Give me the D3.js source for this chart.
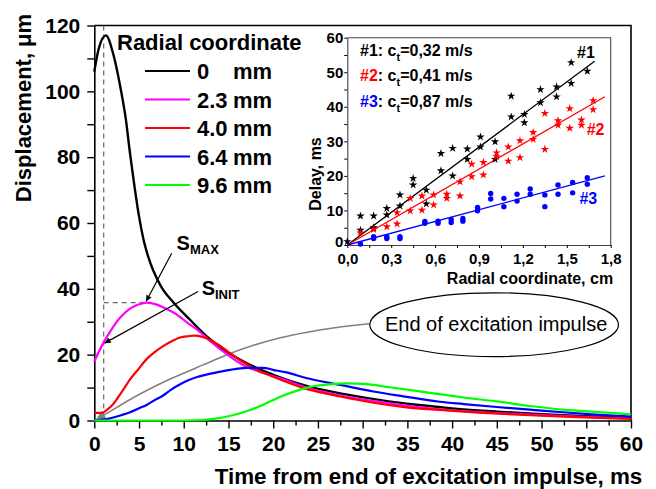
<!DOCTYPE html>
<html>
<head>
<meta charset="utf-8">
<script src="https://cdn.jsdelivr.net/npm/d3@7"></script>
<style>
body { margin: 0; background: #fff; }
text { font-family: Arial, "Liberation Sans", sans-serif; }
</style>
</head>
<body>
<script>
/* DATA */
// main chart: time from end of impulse (ms) vs displacement (um), one pair per radius
var radii = ["0", "2.3", "4.0", "6.4", "9.6"];
var seriesColors = ["#000000", "#ff00ff", "#ff0000", "#0000ff", "#00ff00"];

var time0 = [0, 0.5, 1.3, 2.1, 3.0, 3.5, 4.0, 4.5, 5.0, 5.5, 6.0, 7.4, 8.9, 10.7, 12.6, 14.5, 17.1, 20.0, 24.0, 28.0, 32.0, 36.0, 40.0, 45.0, 50.0, 55.0, 60.0];
var disp0 = [106, 113, 117, 111.5, 100, 92, 81, 71, 62, 55, 50, 41, 35.7, 30.6, 25.5, 21.5, 17.3, 13.9, 10.3, 8.0, 6.2, 4.8, 3.7, 2.7, 1.9, 1.3, 0.8];

var time23 = [0, 1.0, 2.0, 3.0, 4.0, 5.0, 5.8, 7.0, 8.0, 9.0, 10.5, 11.6, 13.0, 14.2, 15.7, 17.0, 18.5, 20.8, 23.7, 27.5, 32.0, 38.6, 44.0, 48.7, 54.0, 60.0];
var disp23 = [18, 23.5, 28, 31.6, 34, 35.3, 35.8, 35.2, 34, 32.6, 29.5, 27.4, 24, 21.4, 18.4, 16.3, 14.8, 12.8, 10.0, 7.6, 5.6, 3.4, 2.4, 1.8, 1.2, 0.6];

var time40 = [0, 0.8, 1.4, 2.0, 3.0, 4.0, 4.9, 5.9, 6.75, 7.7, 8.6, 9.6, 10.5, 11.2, 12.0, 13.0, 14.0, 15.0, 16.3, 18.0, 20.0, 23.7, 27.5, 31.2, 34.9, 38.6, 43.0, 48.7, 54.0, 60.0];
var disp40 = [2.3, 2.3, 3.2, 4.6, 8.4, 12.5, 15.5, 18.8, 20.8, 22.6, 24.0, 25.2, 25.6, 25.8, 25.5, 24.4, 22.8, 20.8, 18.3, 15.6, 13.3, 9.6, 7.3, 5.4, 4.0, 3.2, 2.4, 1.6, 1.0, 0.5];

var time64 = [0, 1.5, 3.0, 4.0, 4.9, 5.9, 6.75, 7.7, 8.6, 9.6, 10.5, 11.5, 12.3, 13.3, 15.0, 17.0, 18.9, 20.0, 21.5, 23.7, 27.5, 31.2, 34.9, 38.6, 41.3, 45.0, 48.7, 52.4, 56.0, 60.0];
var disp64 = [0, 0.5, 1.6, 2.5, 3.6, 4.8, 6.2, 7.6, 9.4, 11.0, 12.2, 13.2, 13.8, 14.4, 15.3, 16.0, 16.0, 15.4, 14.6, 12.9, 10.8, 8.8, 7.2, 5.7, 5.0, 4.1, 3.3, 2.5, 1.8, 1.2];

var time96 = [0, 5, 10, 12, 13.3, 15, 16.3, 17.1, 18.9, 20, 20.8, 22.6, 23.7, 24.5, 26.7, 28, 29.3, 30.1, 33, 37.5, 41, 45, 48.7, 52.4, 56, 60];
var disp96 = [0, 0, 0, 0.15, 0.5, 1.3, 2.2, 2.9, 4.8, 6.2, 7.2, 9.0, 9.9, 10.4, 11.1, 11.3, 11.2, 11.1, 10.1, 8.4, 7.1, 5.8, 4.4, 3.3, 2.6, 1.9];

// gray arrow "end of excitation impulse", from the ellipse back to t=0
var timeGray = [30.8, 28.6, 26.4, 23.7, 20.8, 17.2, 15.2, 12.3, 8.6, 4.9, 2.1, 0.15];
var dispGray = [29.4, 28.8, 28.0, 26.8, 25.3, 22.4, 20.5, 17.0, 12.9, 7.9, 3.3, 0.1];

// inset: radial coordinate (cm) vs delay (ms)
var radius1 = [0.0, 0.09, 0.09, 0.18, 0.18, 0.27, 0.27, 0.36, 0.36, 0.45, 0.45, 0.54, 0.54, 0.64, 0.64, 0.72, 0.72, 0.82, 0.82, 0.91, 0.91, 1.01, 1.01, 1.12, 1.12, 1.21, 1.21, 1.32, 1.32, 1.43, 1.43, 1.53, 1.53, 1.64];
var delay1 = [1.0, 8.4, 4.3, 8.4, 5.0, 10.6, 8.7, 14.5, 11.3, 19.3, 17.4, 15.9, 11.9, 26.5, 21.5, 28.0, 20.0, 27.8, 24.8, 31.3, 28.4, 29.9, 24.8, 43.1, 37.1, 37.8, 35.4, 45.0, 41.2, 45.8, 42.9, 52.8, 46.8, 50.3];

var radius2 = [0.09, 0.18, 0.27, 0.34, 0.34, 0.43, 0.43, 0.51, 0.51, 0.59, 0.59, 0.68, 0.68, 0.77, 0.77, 0.85, 0.85, 0.93, 0.93, 1.02, 1.02, 1.10, 1.10, 1.18, 1.18, 1.27, 1.27, 1.35, 1.35, 1.44, 1.44, 1.52, 1.52, 1.60, 1.60, 1.68, 1.68];
var delay2 = [3.5, 4.5, 5.3, 9.4, 6.1, 13.5, 9.9, 14.2, 10.1, 14.5, 11.6, 14.7, 13.5, 14.2, 18.3, 23.4, 19.8, 23.9, 20.3, 26.7, 25.6, 28.4, 24.3, 30.2, 25.3, 32.6, 30.6, 38.1, 27.7, 36.0, 34.7, 39.5, 33.8, 36.2, 34.7, 41.8, 39.2];

var radius3 = [0.09, 0.18, 0.18, 0.27, 0.27, 0.36, 0.36, 0.53, 0.53, 0.62, 0.62, 0.71, 0.71, 0.79, 0.79, 0.89, 0.89, 0.98, 0.98, 1.07, 1.07, 1.16, 1.16, 1.25, 1.25, 1.35, 1.35, 1.44, 1.44, 1.54, 1.54, 1.64, 1.64];
var delay3 = [0.3, 2.4, 1.9, 2.4, 1.9, 2.4, 1.9, 6.8, 6.3, 6.9, 6.3, 7.4, 6.5, 7.7, 6.9, 10.9, 9.9, 14.9, 13.3, 13.5, 11.1, 14.7, 12.7, 16.2, 14.7, 14.5, 11.1, 17.4, 14.7, 18.1, 15.1, 19.5, 17.6];

// linear fits (start and end of each line)
var fitRadius1 = [0, 1.69], fitDelay1 = [0, 53.2];
var fitRadius2 = [0, 1.76], fitDelay2 = [0, 42.9];
var fitRadius3 = [0, 1.76], fitDelay3 = [0, 20.0];
var speeds = ["0,32", "0,41", "0,87"];
var fitColors = ["#000000", "#ff0000", "#0000ff"];

/* SETUP */
var width = 656, height = 489;
var svg = d3.select("body").append("svg")
    .attr("width", width)
    .attr("height", height);

var defs = svg.append("defs");
defs.append("marker")
    .attr("id", "arrowBlack")
    .attr("viewBox", "0 0 10 10").attr("refX", 10).attr("refY", 5)
    .attr("markerWidth", 9).attr("markerHeight", 6)
    .attr("markerUnits", "userSpaceOnUse")
    .attr("orient", "auto")
  .append("path").attr("d", "M0,0 L10,5 L0,10 z").attr("fill", "#000");
defs.append("marker")
    .attr("id", "arrowGray")
    .attr("viewBox", "0 0 10 10").attr("refX", 10).attr("refY", 5)
    .attr("markerWidth", 14).attr("markerHeight", 10)
    .attr("markerUnits", "userSpaceOnUse")
    .attr("orient", "auto")
  .append("path").attr("d", "M0,0 L10,5 L0,10 z").attr("fill", "#808080");

// main scales
var x = d3.scaleLinear().domain([0, 60]).range([94.3, 631]);
var y = d3.scaleLinear().domain([0, 120]).range([420.5, 25.5]);

/* MAIN AXES */
var xAxis = d3.axisBottom(x)
    .tickValues(d3.range(0, 60.1, 2.5))
    .tickFormat(d => d % 5 === 0 ? d : "")
    .tickSizeInner(8).tickSizeOuter(0).tickPadding(8);
var gx = svg.append("g")
    .attr("transform", "translate(0," + y(0) + ")")
    .call(xAxis);
gx.selectAll(".tick").filter(d => d % 5 !== 0).select("line").attr("y2", 5);

var yAxis = d3.axisLeft(y)
    .tickValues(d3.range(0, 120.1, 10))
    .tickFormat(d => d % 20 === 0 ? d : "")
    .tickSizeInner(7).tickSizeOuter(0).tickPadding(7);
var gy = svg.append("g")
    .attr("transform", "translate(" + x(0) + ",0)")
    .call(yAxis);

[gx, gy].forEach(g => {
  g.select(".domain").attr("stroke", "#000").attr("stroke-width", 1.6);
  g.selectAll(".tick line").attr("stroke", "#000").attr("stroke-width", 1.4);
  g.selectAll("text").attr("fill", "#000")
      .style("font-size", "21px").style("font-weight", "bold")
      .style("font-family", "Arial, 'Liberation Sans', sans-serif");
});

// top and right frame
svg.append("path")
    .attr("d", "M" + x(0) + "," + y(120) + "H" + x(60) + "V" + y(0))
    .attr("fill", "none").attr("stroke", "#000").attr("stroke-width", 1.6);

// axis titles
svg.append("text")
    .attr("transform", "translate(31," + 108 + ") rotate(-90)")
    .attr("text-anchor", "middle")
    .style("font-size", "22px").style("font-weight", "bold")
    .text("Displacement, \u03bcm");

svg.append("text")
    .attr("x", 428.5).attr("y", 484)
    .attr("text-anchor", "middle")
    .style("font-size", "22.4px").style("font-weight", "bold")
    .text("Time from end of excitation impulse, ms");

/* DASHED GUIDES */
var guideTime = 1.05, peakTime = 5.8, peakDisp = 35.8;
svg.append("line")
    .attr("x1", x(guideTime)).attr("x2", x(guideTime))
    .attr("y1", y(120)).attr("y2", y(0))
    .attr("stroke", "#666").attr("stroke-width", 1.2).attr("stroke-dasharray", "5,4");
svg.append("line")
    .attr("x1", x(guideTime)).attr("x2", x(peakTime))
    .attr("y1", y(peakDisp)).attr("y2", y(peakDisp))
    .attr("stroke", "#666").attr("stroke-width", 1.2).attr("stroke-dasharray", "5,4");

/* CURVES */
var line = d3.line()
    .x(d => x(d[0]))
    .y(d => y(d[1]))
    .curve(d3.curveMonotoneX);

var series = [
  d3.zip(time0, disp0),
  d3.zip(time23, disp23),
  d3.zip(time40, disp40),
  d3.zip(time64, disp64),
  d3.zip(time96, disp96)
];

// gray arrow to origin
svg.append("path")
    .datum(d3.zip(timeGray, dispGray))
    .attr("d", d3.line().x(d => x(d[0])).y(d => y(d[1])).curve(d3.curveBasis))
    .attr("fill", "none")
    .attr("stroke", "#808080").attr("stroke-width", 1.6)
    .attr("marker-end", "url(#arrowGray)");

series.forEach((s, i) => {
  svg.append("path")
      .datum(s)
      .attr("d", line)
      .attr("fill", "none")
      .attr("stroke", seriesColors[i])
      .attr("stroke-width", i === 0 ? 2.4 : 2.2)
      .attr("stroke-linejoin", "round");
});

/* LEGEND */
svg.append("text")
    .attr("x", 117).attr("y", 50)
    .style("font-size", "22px").style("font-weight", "bold")
    .text("Radial coordinate");

var legend = svg.append("g");
radii.forEach((r, i) => {
  var ly = 71 + i * 28.5;
  legend.append("line")
      .attr("x1", 145).attr("x2", 190).attr("y1", ly).attr("y2", ly)
      .attr("stroke", seriesColors[i]).attr("stroke-width", 2);
  legend.append("text")
      .attr("x", 197).attr("y", ly + 8)
      .style("font-size", "22px").style("font-weight", "bold")
      .text(r);
  legend.append("text")
      .attr("x", 233).attr("y", ly + 8)
      .style("font-size", "22px").style("font-weight", "bold")
      .text("mm");
});

/* ANNOTATIONS */
function subLabel(tx, vy, main, sub, subDy) {
  var t = svg.append("text")
      .attr("x", x(tx)).attr("y", y(vy))
      .style("font-weight", "bold");
  t.append("tspan").style("font-size", "20px").text(main);
  t.append("tspan").style("font-size", "13px").attr("dy", subDy).text(sub);
}
subLabel(9.2, 51.8, "S", "MAX", 4);
subLabel(12.0, 38.2, "S", "INIT", 4);

svg.append("line")
    .attr("x1", x(8.65)).attr("y1", y(50.8))
    .attr("x2", x(5.8)).attr("y2", y(36.2))
    .attr("stroke", "#000").attr("stroke-width", 1.2)
    .attr("marker-end", "url(#arrowBlack)");
svg.append("line")
    .attr("x1", x(11.6)).attr("y1", y(39.2))
    .attr("x2", x(1.15)).attr("y2", y(23.5))
    .attr("stroke", "#000").attr("stroke-width", 1.2)
    .attr("marker-end", "url(#arrowBlack)");

// ellipse callout
var ellipseT = 44.7, ellipseV = 29.1, ellipseRT = 13.9, ellipseRV = 9.7;
svg.append("ellipse")
    .attr("cx", x(ellipseT)).attr("cy", y(ellipseV))
    .attr("rx", x(ellipseRT) - x(0)).attr("ry", y(0) - y(ellipseRV))
    .attr("fill", "#fff").attr("stroke", "#000").attr("stroke-width", 1.2);
svg.append("text")
    .attr("x", x(ellipseT) + 2).attr("y", y(ellipseV) + 6.5)
    .attr("text-anchor", "middle")
    .style("font-size", "20px")
    .text("End of excitation impulse");

/* INSET */
var ix = d3.scaleLinear().domain([0, 1.8]).range([347.3, 610.7]);
var iy = d3.scaleLinear().domain([0, 60]).range([245, 37.7]);

var inset = svg.append("g");

var ixAxis = d3.axisBottom(ix)
    .tickValues(d3.range(0, 1.81, 0.15))
    .tickFormat(d => Math.round(d * 100) % 30 === 0 ? d3.format(".1f")(d).replace(".", ",") : "")
    .tickSizeInner(3).tickSizeOuter(0).tickPadding(5);
var gix = inset.append("g")
    .attr("transform", "translate(0," + iy(0) + ")")
    .call(ixAxis);

var iyAxis = d3.axisLeft(iy)
    .tickValues(d3.range(0, 60.1, 5))
    .tickFormat(d => d % 10 === 0 ? d : "")
    .tickSizeInner(3).tickSizeOuter(0).tickPadding(1);
var giy = inset.append("g")
    .attr("transform", "translate(" + ix(0) + ",0)")
    .call(iyAxis);

[gix, giy].forEach(g => {
  g.select(".domain").attr("stroke", "#444").attr("stroke-width", 1.1);
  g.selectAll(".tick line").attr("stroke", "#000");
  g.selectAll("text").attr("fill", "#000")
      .style("font-size", "15px").style("font-weight", "bold")
      .style("font-family", "Arial, 'Liberation Sans', sans-serif");
});
// lift the "0" of the delay axis so it clears the radial labels
giy.selectAll(".tick").filter(d => d === 0).select("text").attr("dy", "0.1em");
inset.append("path")
    .attr("d", "M" + ix(0) + "," + iy(60) + "H" + ix(1.8) + "V" + iy(0))
    .attr("fill", "none").attr("stroke", "#444").attr("stroke-width", 1.1);

inset.append("text")
    .attr("transform", "translate(321,174) rotate(-90)")
    .attr("text-anchor", "middle")
    .style("font-size", "16px").style("font-weight", "bold")
    .text("Delay, ms");
inset.append("text")
    .attr("x", 530).attr("y", 284)
    .attr("text-anchor", "middle")
    .style("font-size", "16px").style("font-weight", "bold")
    .text("Radial coordinate, cm");

// fit lines
var fits = [
  d3.zip(fitRadius1, fitDelay1),
  d3.zip(fitRadius2, fitDelay2),
  d3.zip(fitRadius3, fitDelay3)
];
var iline = d3.line().x(d => ix(d[0])).y(d => iy(d[1]));
fits.forEach((f, i) => {
  inset.append("path").datum(f).attr("d", iline)
      .attr("fill", "none").attr("stroke", fitColors[i]).attr("stroke-width", 1.3);
});

// points
var star = d3.symbol().type(d3.symbolStar).size(22);
[[radius1, delay1, "#000"], [radius2, delay2, "#ff0000"]].forEach(p => {
  inset.selectAll(null).data(d3.zip(p[0], p[1])).enter().append("path")
      .attr("d", star)
      .attr("transform", d => "translate(" + ix(d[0]) + "," + iy(d[1]) + ")")
      .attr("fill", p[2]);
});
inset.selectAll(null).data(d3.zip(radius3, delay3)).enter().append("circle")
    .attr("cx", d => ix(d[0])).attr("cy", d => iy(d[1]))
    .attr("r", 2.7)
    .attr("fill", "#0000ff");

// inset legend
speeds.forEach((s, i) => {
  var t = inset.append("text")
      .attr("x", 360).attr("y", 56 + i * 25.3)
      .style("font-size", "16px").style("font-weight", "bold");
  t.append("tspan").attr("fill", fitColors[i]).text("#" + (i + 1));
  t.append("tspan").attr("fill", "#000").text(": c");
  t.append("tspan").attr("fill", "#000").attr("dy", 5).style("font-size", "11px").text("t");
  t.append("tspan").attr("fill", "#000").attr("dy", -5).text("=" + s + " m/s");
});

// labels at line ends
var endLabels = [[1.57, 54.1], [1.636, 31.8], [1.586, 11.9]];
endLabels.forEach((p, i) => {
  inset.append("text")
      .attr("x", ix(p[0])).attr("y", iy(p[1]))
      .attr("fill", fitColors[i])
      .style("font-size", "16px").style("font-weight", "bold")
      .text("#" + (i + 1));
});
</script>
</body>
</html>
